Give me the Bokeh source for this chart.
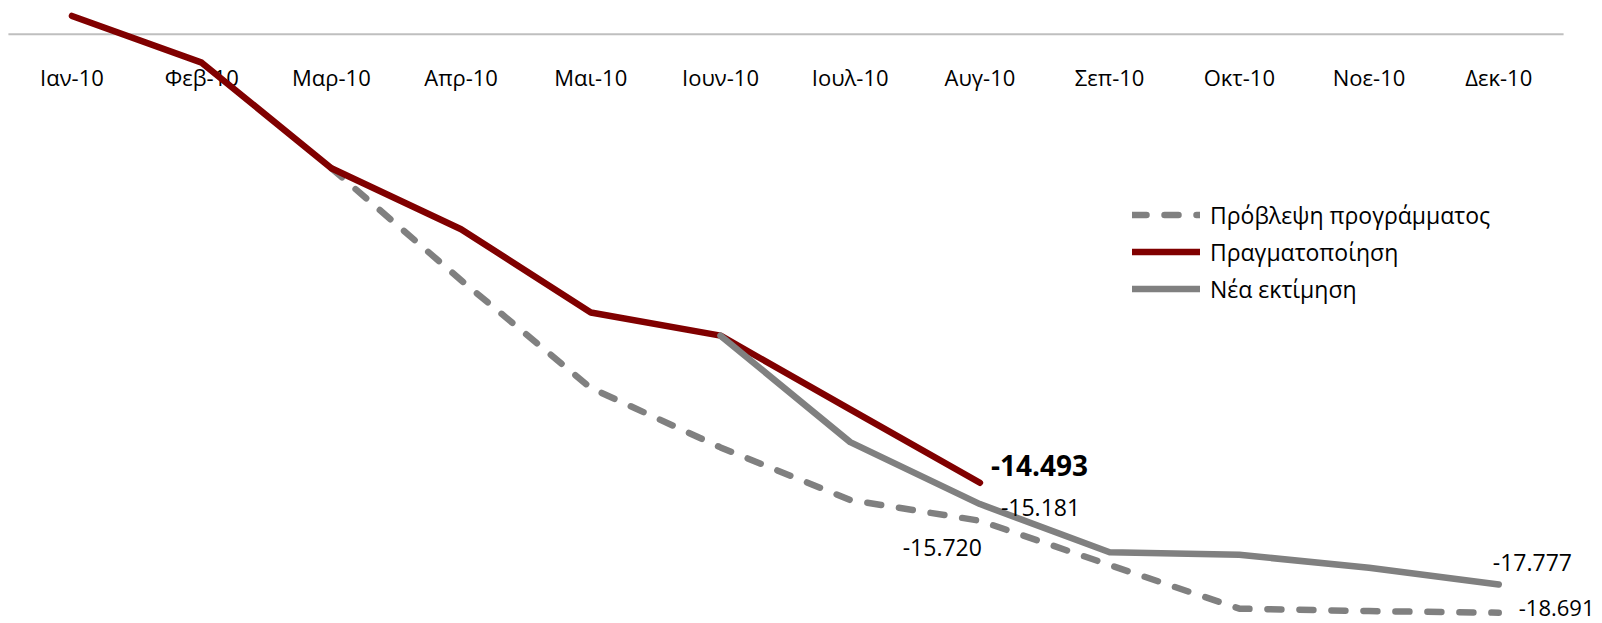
from bokeh.plotting import figure
from bokeh.models import ColumnDataSource, Range1d, Legend, LegendItem
from bokeh.core.properties import value
from bokeh.embed import file_html
from bokeh.resources import INLINE

months = ["Ιαν-10", "Φεβ-10", "Μαρ-10", "Απρ-10", "Μαι-10", "Ιουν-10",
          "Ιουλ-10", "Αυγ-10", "Σεπ-10", "Οκτ-10", "Νοε-10", "Δεκ-10"]
actual = [0.59, -0.92, -4.33, -6.30, -8.99, -9.74, -12.12, -14.493]          # Ιαν..Αυγ
forecast = [-4.33, -7.95, -11.43, -13.35, -15.05, -15.720, -17.15, -18.56, -18.64, -18.691]  # Μαρ..Δεκ
new_est = [-9.74, -13.18, -15.181, -16.74, -16.82, -17.24, -17.777]          # Ιουν..Δεκ

FONT = "Open Sans"
W, H = 1602, 623

p = figure(width=W, height=H, output_backend="svg", toolbar_location=None,
           x_range=Range1d(-0.551, 11.80), y_range=Range1d(-19.04, 1.089),
           min_border=0, background_fill_color="white", border_fill_color="white")
p.axis.visible = False
p.grid.visible = False
p.outline_line_color = None

# zero axis line
p.segment(x0=[-0.49], y0=[0], x1=[11.5], y1=[0], line_color="#BFBFBF", line_width=2)

# category labels
xs = list(range(len(months)))
p.text(x=xs, y=[0] * len(xs), text=months, text_align="center", text_baseline="middle",
       y_offset=43, text_font=value(FONT), text_font_size="22px", text_color="#000000")

src_f = ColumnDataSource(dict(x=xs[2:], y=forecast))
src_a = ColumnDataSource(dict(x=xs[:8], y=actual))
src_n = ColumnDataSource(dict(x=xs[5:], y=new_est))

r_f = p.line("x", "y", source=src_f, line_color="#808080", line_width=6.5,
             line_dash="14 18", line_cap="round", line_join="round")
r_a = p.line("x", "y", source=src_a, line_color="#800000", line_width=6.5,
             line_cap="round", line_join="round")
r_n = p.line("x", "y", source=src_n, line_color="#808080", line_width=6.5,
             line_cap="round", line_join="round")

# data labels
p.text(x=[7], y=[actual[7]], text=["-14.493"], text_align="left", text_baseline="middle",
       x_offset=11, y_offset=-17, text_font=value(FONT), text_font_size="28px",
       text_font_style="bold", text_color="#000000")
p.text(x=[7], y=[new_est[2]], text=["-15.181"], text_align="left", text_baseline="middle",
       x_offset=21, y_offset=3, text_font=value(FONT), text_font_size="23px", text_color="#000000")
p.text(x=[7], y=[forecast[5]], text=["-15.720"], text_align="right", text_baseline="middle",
       x_offset=2, y_offset=27, text_font=value(FONT), text_font_size="23px", text_color="#000000")
p.text(x=[11], y=[new_est[6]], text=["-17.777"], text_align="left", text_baseline="middle",
       x_offset=-6, y_offset=-22, text_font=value(FONT), text_font_size="23px", text_color="#000000")
p.text(x=[11], y=[forecast[9]], text=["-18.691"], text_align="left", text_baseline="middle",
       x_offset=20, y_offset=-5, text_font=value(FONT), text_font_size="22px", text_color="#000000")

legend = Legend(items=[LegendItem(label="Πρόβλεψη προγράμματος", renderers=[r_f]),
                       LegendItem(label="Πραγματοποίηση", renderers=[r_a]),
                       LegendItem(label="Νέα εκτίμηση", renderers=[r_n])],
                location=(1132, 316), orientation="vertical",
                glyph_width=68, glyph_height=37, label_height=37, label_standoff=10,
                spacing=0, padding=0, margin=0, border_line_color=None,
                background_fill_alpha=0, label_text_font=FONT, label_text_font_size="23px",
                label_text_color="#000000", label_text_baseline="middle")
p.add_layout(legend, "center")

open("out.html", "w").write(file_html(p, INLINE))
